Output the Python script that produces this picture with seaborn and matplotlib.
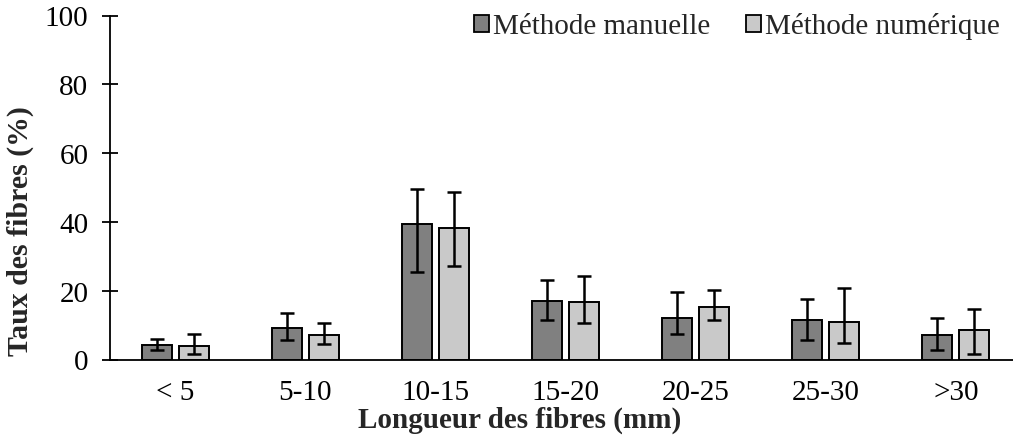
import numpy as np
import pandas as pd
import matplotlib
matplotlib.use("Agg")
import matplotlib.pyplot as plt
import seaborn as sns
from matplotlib.patches import Patch

# values
categories = ["< 5", "5-10", "10-15", "15-20", "20-25", "25-30", ">30"]
series = ["Méthode manuelle", "Méthode numérique"]

manual = [4.1, 9.2, 39.5, 16.9, 12.2, 11.6, 7.1]
manual_hi = [6.0, 13.5, 49.6, 23.1, 19.6, 17.6, 12.2]
manual_lo = [2.9, 5.8, 25.4, 11.6, 7.5, 5.8, 2.8]

numeric = [3.8, 7.0, 38.2, 16.6, 15.4, 11.0, 8.7]
numeric_hi = [7.5, 10.6, 48.7, 24.4, 20.1, 20.8, 14.7]
numeric_lo = [1.5, 4.6, 27.1, 10.5, 11.6, 4.8, 1.5]

colors = ["#808080", "#c9c9c9"]

df = pd.DataFrame({
    "cat": categories * 2,
    "method": [series[0]] * len(categories) + [series[1]] * len(categories),
    "val": manual + numeric,
})

sns.set_style("ticks")
plt.rcParams["font.family"] = ["Liberation Serif", "DejaVu Serif"]

fig = plt.figure(figsize=(10.13, 4.39), dpi=100)
W, H = 1013, 439
ax = fig.add_axes([110 / W, (H - 360.5) / H, 911 / W, 344 / H])

sns.barplot(data=df, x="cat", y="val", hue="method", order=categories,
            hue_order=series, palette=colors, width=0.568, gap=0.19,
            edgecolor="black", linewidth=1.4, errorbar=None, ax=ax, legend=False)

# error bars at the bar centres
for cont, vals, hi, lo in zip(ax.containers, [manual, numeric],
                              [manual_hi, numeric_hi], [manual_lo, numeric_lo]):
    xs = [p.get_x() + p.get_width() / 2 for p in cont.patches]
    v = np.array(vals)
    yerr = [v - np.array(lo), np.array(hi) - v]
    ax.errorbar(xs, v, yerr=yerr, fmt="none", ecolor="black",
                elinewidth=1.8, capsize=5, capthick=1.8, zorder=5)

ax.set_xlim(-0.5, 6.5)
ax.set_ylim(0, 100)
ax.set_yticks(range(0, 101, 20))
sns.despine(ax=ax)
for s in ["left", "bottom"]:
    ax.spines[s].set_linewidth(1.3)
    ax.spines[s].set_color("black")

ax.tick_params(axis="y", direction="inout", length=11, width=1.3,
               labelsize=21, pad=10, colors="black")
ax.tick_params(axis="x", length=0, labelsize=21, pad=14, colors="black")

ax.set_xlabel("Longueur des fibres (mm)", fontsize=21, fontweight="bold")
ax.xaxis.set_label_coords(0.45, -0.135)
ax.set_ylabel("Taux des fibres (%)", fontsize=21.5, fontweight="bold")
ax.yaxis.set_label_coords(-0.083, 0.375)

handles = [Patch(facecolor=c, edgecolor="black", linewidth=1.3) for c in colors]
ax.legend(handles, series, loc="center right", bbox_to_anchor=(1000 / W, 1 - 27 / H),
          bbox_transform=fig.transFigure, ncol=2, frameon=False, fontsize=21,
          handlelength=0.52, handleheight=0.52, handletextpad=0.15,
          columnspacing=1.2, borderaxespad=0, borderpad=0)

fig.savefig("out.png", dpi=100)
